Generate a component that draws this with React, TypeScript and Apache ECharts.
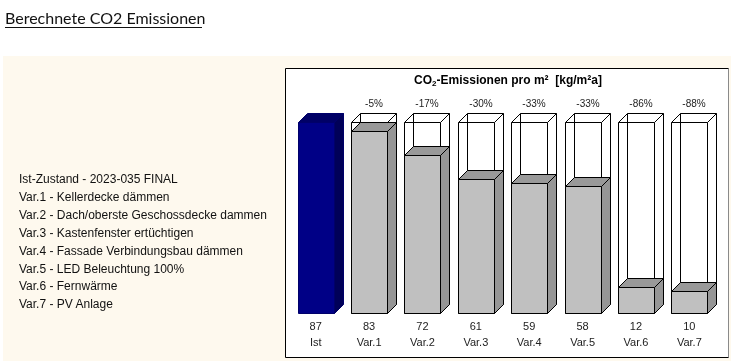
import React, { useEffect, useRef } from "react";
import * as echarts from "echarts";

const pageTitle = "Berechnete CO2 Emissionen";
const legendLines = [
  "Ist-Zustand - 2023-035 FINAL",
  "Var.1 - Kellerdecke dämmen",
  "Var.2 - Dach/oberste Geschossdecke dammen",
  "Var.3 - Kastenfenster ertüchtigen",
  "Var.4 - Fassade Verbindungsbau dämmen",
  "Var.5 - LED Beleuchtung 100%",
  "Var.6 - Fernwärme",
  "Var.7 - PV Anlage",
];
const categories = ["Ist", "Var.1", "Var.2", "Var.3", "Var.4", "Var.5", "Var.6", "Var.7"];
const values = [87, 83, 72, 61, 59, 58, 12, 10];
const changeLabels = ["", "-5%", "-17%", "-30%", "-33%", "-33%", "-86%", "-88%"];
const referenceValue = values[0];

const FONT = "'Liberation Sans', Arial, sans-serif";

export default function App() {
  const ref = useRef<HTMLDivElement>(null);
  useEffect(() => {
    if (!ref.current) return;
    const chart = echarts.init(ref.current, undefined, { renderer: "svg" });
    const bw = 36;
    const d = 9;
    const px = (v: number) => Math.round(v) + 0.5;

    const renderItem = (params: any, api: any) => {
      const idx = api.value(0);
      const val = api.value(1);
      const base = api.coord([idx, 0]);
      const top = api.coord([idx, val]);
      const refTop = api.coord([idx, referenceValue]);
      const x0 = px(base[0] - bw / 2);
      const x1 = x0 + bw;
      const yb = px(base[1]);
      const yt = px(top[1]);
      const yr = px(refTop[1]);
      const isRef = idx === 0;
      const children: any[] = [];
      const lineStyle = { stroke: "#000", lineWidth: 1, fill: "none" };
      if (!isRef) {
        children.push({ type: "rect", shape: { x: x0 + d, y: yr - d, width: bw, height: yb - yr }, style: lineStyle });
        children.push({ type: "rect", shape: { x: x0, y: yr, width: bw, height: yb - yr }, style: lineStyle });
        children.push({ type: "line", shape: { x1: x0, y1: yr, x2: x0 + d, y2: yr - d }, style: lineStyle });
        children.push({ type: "line", shape: { x1: x1, y1: yr, x2: x1 + d, y2: yr - d }, style: lineStyle });
        children.push({
          type: "text",
          style: {
            text: changeLabels[idx],
            x: (x0 + x1 + d) / 2,
            y: yr - d - 10,
            align: "center",
            verticalAlign: "middle",
            font: `10px ${FONT}`,
            fill: "#222",
          },
        });
      }
      const front = isRef ? "#000086" : "#C0C0C0";
      const side = isRef ? "#000058" : "#969696";
      const topC = isRef ? "#000066" : "#999999";
      const stroke = isRef ? "#00006a" : "#000";
      children.push({
        type: "polygon",
        shape: { points: [[x1, yt], [x1 + d, yt - d], [x1 + d, yb - d], [x1, yb]] },
        style: { fill: side, stroke, lineWidth: 1 },
      });
      children.push({
        type: "polygon",
        shape: { points: [[x0, yt], [x0 + d, yt - d], [x1 + d, yt - d], [x1, yt]] },
        style: { fill: topC, stroke, lineWidth: 1 },
      });
      children.push({
        type: "rect",
        shape: { x: x0, y: yt, width: bw, height: yb - yt },
        style: { fill: front, stroke, lineWidth: 1 },
      });
      return { type: "group", children };
    };

    const graphics: any[] = [
      {
        type: "text",
        left: 5,
        top: 9,
        z: 0,
        style: { text: pageTitle, font: "16px Lato, sans-serif", fill: "#111" },
      },
      {
        type: "line",
        z: 0,
        shape: { x1: 5, y1: 27.5, x2: 202, y2: 27.5 },
        style: { stroke: "#111", lineWidth: 1 },
      },
      {
        type: "rect",
        z: 0,
        shape: { x: 3, y: 56, width: 728, height: 305 },
        style: { fill: "#FEF9EE" },
      },
      {
        type: "rect",
        z: 1,
        shape: { x: 285.5, y: 68.5, width: 443, height: 289 },
        style: { fill: "#fff", stroke: "#000", lineWidth: 1 },
      },
      {
        type: "line",
        z: 1,
        shape: { x1: 728.5, y1: 68.5, x2: 728.5, y2: 357.5 },
        style: { stroke: "#8a8a8a", lineWidth: 1 },
      },
      {
        type: "text",
        z: 2,
        x: 508,
        y: 80,
        style: {
          text: "{a|CO}{s|2}{a|-Emissionen pro m²  [kg/m²a]}",
          align: "center",
          verticalAlign: "middle",
          rich: {
            a: { font: `bold 12px ${FONT}`, fill: "#000" },
            s: { font: `bold 8px ${FONT}`, fill: "#000", padding: [6, 0, 0, 0] },
          },
        },
      },
      ...legendLines.map((t, i) => ({
        type: "text",
        z: 2,
        x: 19,
        y: 179 + i * 17.9,
        style: { text: t, font: `12px ${FONT}`, fill: "#111", verticalAlign: "middle" },
      })),
    ];

    chart.setOption({
      animation: false,
      graphic: graphics,
      grid: { left: 289, right: 15, top: 122, bottom: 48 },
      xAxis: {
        type: "category",
        data: categories,
        z: 10,
        axisLine: { show: false },
        axisTick: { show: false },
        axisLabel: {
          margin: 5,
          lineHeight: 16,
          fontSize: 11,
          fontFamily: FONT,
          color: "#222",
          formatter: (v: string, i: number) => `${values[i]}\n${v}`,
        },
      },
      yAxis: { type: "value", min: 0, max: referenceValue, show: false },
      series: [
        {
          type: "custom",
          z: 5,
          renderItem,
          encode: { x: 0, y: 1 },
          data: values.map((v, i) => [i, v]),
        },
      ],
    });
    return () => chart.dispose();
  }, []);
  return <div ref={ref} style={{ position: "fixed", left: 0, top: 0, width: 731, height: 361 }} />;
}
